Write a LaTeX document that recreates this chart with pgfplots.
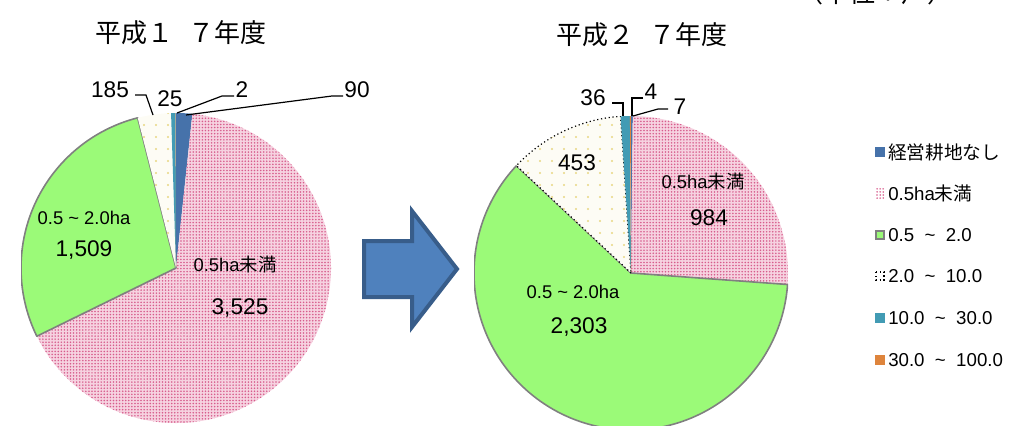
\documentclass[border=0pt]{standalone}
\usepackage{pgfplots}
\pgfplotsset{compat=1.18}
\usepackage{pgfplotstable}
\usepackage{fontspec}
\setmainfont{Liberation Sans}
\newfontfamily\jp{Noto Sans CJK JP}
\usetikzlibrary{patterns.meta}

% farm households by cultivated area (units: households)
\pgfplotstableread{
cls value
0 90
1 3525
2 1509
3 185
4 25
5 2
}\dataHseventeen

\pgfplotstableread{
cls value
0 7
1 984
2 2303
3 453
4 36
5 4
}\dataHtwentyseven

\definecolor{cBlue}{RGB}{70,114,170}
\definecolor{cPinkBg}{RGB}{246,210,224}
\definecolor{cPinkDot}{RGB}{215,92,140}
\definecolor{cGreen}{RGB}{155,250,120}
\definecolor{cGreenEdge}{RGB}{128,128,128}
\definecolor{cCream}{RGB}{253,252,245}
\definecolor{cCreamDot}{RGB}{232,214,130}
\definecolor{cTeal}{RGB}{66,155,180}
\definecolor{cOrange}{RGB}{222,132,60}
\definecolor{cArrow}{RGB}{79,129,189}
\definecolor{cArrowEdge}{RGB}{56,93,138}

\tikzset{
  pinkfill/.style={fill=cPinkBg, postaction={pattern={Dots[distance=2.3pt,radius=0.65pt]}, pattern color=cPinkDot}},
  creamfill/.style={fill=cCream, postaction={pattern={Dots[distance=9pt,radius=0.9pt]}, pattern color=cCreamDot}},
  Lslice0/.style={fill=cBlue},
  Lslice1/.style={pinkfill},
  Lslice2/.style={fill=cGreen, draw=cGreenEdge, line width=1.2pt, line join=round},
  Lslice3/.style={creamfill},
  Lslice4/.style={fill=cTeal},
  Lslice5/.style={fill=cOrange},
  Rslice0/.style={fill=cBlue},
  Rslice1/.style={pinkfill},
  Rslice2/.style={fill=cGreen, draw=cGreenEdge, line width=1.2pt, line join=round},
  Rslice3/.style={creamfill, draw=black, line width=0.9pt, dotted},
  Rslice4/.style={fill=cTeal},
  Rslice5/.style={fill=cOrange},
  leader/.style={line width=0.9pt, black},
  num/.style={font=\fontsize{17pt}{19pt}\selectfont, inner sep=0pt},
  lab/.style={font=\fontsize{13.8pt}{16pt}\selectfont, inner sep=0pt},
  leg/.style={font=\fontsize{14pt}{16pt}\selectfont, inner sep=0pt, anchor=west},
}

% pie slices clockwise from 12 o'clock: #1 table, #2 radius, #3 style prefix
\newcommand\pieslices[3]{%
  \pgfplotstablegetrowsof{#1}%
  \pgfmathtruncatemacro\lastrow{\pgfplotsretval-1}%
  \gdef\pietotal{0}%
  \foreach \i in {0,...,\lastrow}{%
    \pgfplotstablegetelem{\i}{value}\of{#1}%
    \pgfmathsetmacro\tmp{\pietotal+\pgfplotsretval}%
    \xdef\pietotal{\tmp}%
  }%
  \gdef\piestart{0}%
  \foreach \i in {0,...,\lastrow}{%
    \pgfplotstablegetelem{\i}{value}\of{#1}%
    \pgfmathsetmacro\pieend{\piestart+\pgfplotsretval/\pietotal*360}%
    \path[#3slice\i] (axis cs:0,0) -- ++({90-\piestart}:#2)
      arc[start angle={90-\piestart}, end angle={90-\pieend}, radius=#2] -- cycle;
    \xdef\piestart{\pieend}%
  }%
}

\begin{document}
\begin{tikzpicture}[x=0.75pt, y=-0.75pt]
\useasboundingbox (0,0) rectangle (1009,425);
\clip (0,0) rectangle (1009,425);

\coordinate (cL) at (176,268);
\coordinate (cR) at (631,273);

\begin{axis}[at={(cL)}, anchor=center, width=232.5pt, height=232.5pt,
  scale only axis, xmin=-1, xmax=1, ymin=-1, ymax=1, hide axis]
  \pgfplotsextra{\pieslices{\dataHseventeen}{116.25pt}{L}}
\end{axis}

\begin{axis}[at={(cR)}, anchor=center, width=235.5pt, height=235.5pt,
  scale only axis, xmin=-1, xmax=1, ymin=-1, ymax=1, hide axis]
  \pgfplotsextra{\pieslices{\dataHtwentyseven}{117.75pt}{R}}
\end{axis}

% titles and unit
\node[font=\jp\fontsize{19.5pt}{22pt}\selectfont, inner sep=0pt] at (181,33) {平成１\hspace{0.6em}７年度};
\node[font=\jp\fontsize{19.5pt}{22pt}\selectfont, inner sep=0pt] at (642,35) {平成２\hspace{0.6em}７年度};
\node[font=\jp\fontsize{19.5pt}{22pt}\selectfont, inner sep=0pt, anchor=base] at (875,2) {（単位：戸）};

% left pie labels
\node[lab] at (84,218) {0.5 \textasciitilde{} 2.0ha};
\node[num] at (84,250) {1,509};
\node[lab] at (235,265) {0.5ha{\jp 未満}};
\node[num] at (240,308) {3,525};
\node[num] at (110,90) {185};
\node[num] at (170,99) {25};
\node[num] at (242,90) {2};
\node[num] at (357,90) {90};
\draw[leader] (135,95) -- (146,95) -- (153,115);
\draw[leader] (234,96) -- (222,96) -- (177,113);
\draw[leader] (343,96) -- (332,96) -- (186,115);

% right pie labels
\node[num] at (577,163) {453};
\node[lab] at (703,182) {0.5ha{\jp 未満}};
\node[num] at (709,218) {984};
\node[lab] at (573,292) {0.5 \textasciitilde{} 2.0ha};
\node[num] at (579,327) {2,303};
\node[num] at (593,98) {36};
\node[num] at (651,92) {4};
\node[num] at (680,107) {7};
\draw[leader] (612,103) -- (623,103) -- (623,116);
\draw[leader] (643,98) -- (632,98) -- (632,116);
\draw[leader] (668,109) -- (658,109) -- (633,116);

% arrow between the two years
\draw[fill=cArrow, draw=cArrowEdge, line width=3pt, line join=miter]
  (364,241) -- (412,241) -- (412,211) -- (457,269) -- (412,327) -- (412,297) -- (364,297) -- cycle;

% legend
\fill[cBlue] (875,147) rectangle (885,157);
\node[leg] at (888,152) {\jp 経営耕地なし};
\path[pattern={Dots[distance=2.3pt,radius=0.65pt]}, pattern color=cPinkDot] (875,188) rectangle (885,198);
\node[leg] at (888,193) {0.5ha{\jp 未満}};
\draw[fill=cGreen, draw=cGreenEdge, line width=1.2pt] (876,231) rectangle (884,239);
\node[leg] at (888,235) {0.5\ \ \textasciitilde\ \ 2.0};
\draw[fill=white, draw=black, line width=0.9pt, dotted] (876,272) rectangle (884,280);
\node[leg] at (888,276) {2.0\ \ \textasciitilde\ \ 10.0};
\fill[cTeal] (875,313) rectangle (885,323);
\node[leg] at (888,318) {10.0\ \ \textasciitilde\ \ 30.0};
\fill[cOrange] (875,355) rectangle (885,365);
\node[leg] at (888,360) {30.0\ \ \textasciitilde\ \ 100.0};
\end{tikzpicture}
\end{document}
